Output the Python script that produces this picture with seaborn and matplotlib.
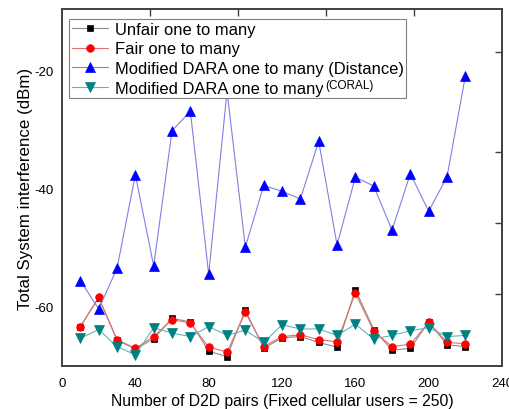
import matplotlib
matplotlib.use("Agg")
import matplotlib.pyplot as plt
import seaborn as sns
import pandas as pd

# Number of D2D pairs
pairs = [10, 20, 30, 40, 50, 60, 70, 80, 90, 100, 110,
         120, 130, 140, 150, 160, 170, 180, 190, 200, 210, 220]

# Total system interference (dBm) per scheme
unfair = [-63.5, -58.6, -65.8, -67.3, -65.6, -62.1, -62.7, -67.7, -68.6, -60.7, -67.2,
          -65.4, -65.2, -66.2, -67.0, -57.2, -64.0, -67.5, -67.2, -62.7, -66.6, -66.9]
fair = [-63.5, -58.5, -65.7, -67.2, -65.2, -62.3, -62.9, -67.0, -67.8, -61.1, -66.9,
        -65.2, -64.9, -65.7, -66.1, -57.8, -64.3, -66.9, -66.5, -62.8, -66.2, -66.4]
dara_distance = [-55.7, -60.5, -53.6, -37.7, -53.2, -30.2, -26.9, -54.6, -23.5, -50.0, -39.5,
                 -40.5, -41.8, -32.0, -49.6, -38.1, -39.6, -47.1, -37.5, -43.9, -38.0, -20.9]
dara_coral = [-65.5, -64.0, -66.9, -68.3, -63.7, -64.6, -65.2, -63.5, -65.0, -64.1, -66.2,
              -63.2, -63.9, -63.9, -65.0, -63.1, -65.6, -65.0, -64.2, -63.7, -65.2, -65.0]

labels = ["Unfair one to many", "Fair one to many",
          "Modified DARA one to many (Distance)", "Modified DARA one to many"]

sns.set_style("white")
plt.rcParams["font.family"] = ["Liberation Sans", "DejaVu Sans"]
plt.rcParams["axes.unicode_minus"] = False
plt.rcParams["text.color"] = "black"
plt.rcParams["axes.labelcolor"] = "black"

fig = plt.figure(figsize=(5.1, 4.1), dpi=100)
ax = fig.add_axes([0.1216, 0.1049, 0.8628, 0.8707])

series = [
    (unfair, labels[0], "s", "black", "#8c8c8c", 4.5),
    (fair, labels[1], "o", "#ff0000", "#e07070", 5.5),
    (dara_distance, labels[2], "^", "#0000ff", "#8080e0", 6.5),
    (dara_coral, labels[3], "v", "#008080", "#66b3b3", 6.5),
]
for values, name, mk, mcol, lcol, ms in series:
    df = pd.DataFrame({"pairs": pairs, "interference": values})
    sns.lineplot(data=df, x="pairs", y="interference", ax=ax, color=lcol,
                 linewidth=0.8, marker=mk, markersize=ms, markerfacecolor=mcol,
                 markeredgecolor=mcol, markeredgewidth=0.5, label=name)

ax.set_xlim(0, 240)
ax.set_ylim(-70.2, -9.5)
ax.set_xticks([0, 40, 80, 120, 160, 200, 240])
ax.set_yticks([-60, -40, -20])
ax.tick_params(axis="both", direction="in", length=5, width=1, color="#404040",
               labelsize=9.5, pad=6, labelcolor="black")
ax.tick_params(axis="x", pad=8)

for side in ["left", "bottom", "top", "right"]:
    ax.spines[side].set_visible(True)
    ax.spines[side].set_color("#404040")
    ax.spines[side].set_linewidth(1.4)

# Opposite axes carry their own unlabeled tick marks
top = ax.secondary_xaxis("top")
top.set_xticks([48, 96, 144, 192])
top.tick_params(direction="in", length=5, width=1, color="#404040", labeltop=False)
top.spines["top"].set_visible(False)
right = ax.secondary_yaxis("right")
right.set_yticks([-16.8, -33.8, -45.9, -58.0])
right.tick_params(direction="in", length=5, width=1, color="#404040", labelright=False)
right.spines["right"].set_visible(False)

ax.set_xlabel("Number of D2D pairs (Fixed cellular users = 250)", fontsize=11.3,
              labelpad=3)
ax.set_ylabel("Total System interference (dBm)", fontsize=12.2, labelpad=1)

leg = ax.legend(loc="upper left", bbox_to_anchor=(0.005, 0.985), fontsize=11.9,
                frameon=True, fancybox=False, edgecolor="#808080", framealpha=1,
                borderpad=0.15, labelspacing=0.28, handlelength=2.2,
                handletextpad=0.4, borderaxespad=0.3)
leg.get_frame().set_linewidth(0.8)
for t in leg.get_texts():
    t.set_color("black")

fig.canvas.draw()
txt = leg.get_texts()[3]
bb = txt.get_window_extent().transformed(fig.transFigure.inverted())
fig.text(bb.x1 + 0.004, bb.y0 + 0.012, "(CORAL)", fontsize=8.5, ha="left", va="bottom",
         color="black", bbox=dict(facecolor="white", edgecolor="none", pad=1.5), zorder=10)

fig.savefig("out.png", dpi=100)
